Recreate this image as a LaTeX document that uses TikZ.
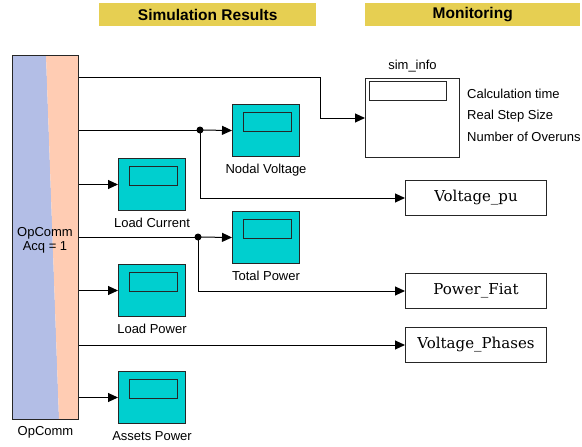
\documentclass[tikz,border=0pt]{standalone}
\usepackage{fontspec}
\setmainfont{Liberation Sans}
\newfontfamily\serifout{DejaVu Serif}
\usetikzlibrary{arrows.meta}
\definecolor{hdr}{HTML}{E6CF52}
\definecolor{scopecyan}{HTML}{00CFCF}
\definecolor{opblue}{HTML}{B3BEE6}
\definecolor{oppeach}{HTML}{FFCCB3}
\tikzset{
  hdrbox/.style={fill=hdr, minimum width=217pt, minimum height=23pt, anchor=north west, inner sep=0pt, font=\fontsize{15.5}{18}\selectfont\bfseries},
  scopebox/.style={draw=black!85, line width=1pt, fill=scopecyan, minimum width=67pt, minimum height=52pt, anchor=north west, inner sep=0pt},
  scopewin/.style={draw=black!85, line width=1pt, fill=scopecyan, minimum width=48pt, minimum height=19pt, inner sep=0pt},
  lbl/.style={font=\fontsize{13}{14}\selectfont, anchor=base, inner sep=0pt},
  outbox/.style={draw=black!85, line width=1pt, fill=white, minimum width=141pt, minimum height=35pt, anchor=north west, inner sep=0pt, font=\serifout\fontsize{15}{18}\selectfont},
  conn/.style={line width=1pt, draw=black},
  arr/.style={conn, -{Triangle[length=10pt,width=9pt]}},
  junc/.style={circle, fill=black, inner sep=0pt, minimum size=7pt}
}
\begin{document}
\begin{tikzpicture}[x=1pt,y=-1pt]
\useasboundingbox (0,0) rectangle (582,447);
% headers
\node[hdrbox] (h1) at (99,3) {Simulation Results};
\node[hdrbox, minimum width=215pt] (h2) at (365,3) {Monitoring};
% OpComm block
\fill[opblue] (12,55) -- (46,55) -- (59,419) -- (12,419) -- cycle;
\fill[oppeach] (46,55) -- (78,55) -- (78,419) -- (59,419) -- cycle;
\node[draw=black!85, line width=1pt, minimum width=66pt, minimum height=364pt, anchor=north west, inner sep=0pt] (op) at (12,55) {};
\node[font=\fontsize{13}{14}\selectfont, align=center, inner sep=0pt] (optxt) at (45,240) {OpComm\\Acq = 1};
\node[lbl] (oplbl) at ([yshift=-15pt]op.south) {OpComm};
% scopes
\node[scopebox] (nv) at (232,104) {};
\node[scopebox] (lc) at (118,158) {};
\node[scopebox] (tp) at (232,211) {};
\node[scopebox] (lp) at (118,264) {};
\node[scopebox] (ap) at (118,371) {};
\foreach \s in {nv,lc,tp,lp,ap}{
  \node[scopewin] (\s w) at ([xshift=1.5pt,yshift=8.5pt]\s.center) {};
}
\node[lbl] at ([yshift=-16pt]nv.south) {Nodal Voltage};
\node[lbl] at ([yshift=-16pt]lc.south) {Load Current};
\node[lbl] at ([yshift=-16pt]tp.south) {Total Power};
\node[lbl] at ([yshift=-16pt]lp.south) {Load Power};
\node[lbl] at ([yshift=-16pt]ap.south) {Assets Power};
% sim_info
\node[draw=black!85, line width=1pt, fill=white, minimum width=94pt, minimum height=79pt, anchor=north west, inner sep=0pt] (sim) at (365,78) {};
\node[draw=black!85, line width=1pt, fill=white, minimum width=77pt, minimum height=19pt, anchor=north west, inner sep=0pt] (simw) at (369,81) {};
\node[lbl] (simlbl) at ([yshift=8pt]sim.north) {sim\_info};
\node[lbl, anchor=base west] (t1) at (467,98) {Calculation time};
\node[lbl, anchor=base west] (t2) at (467,119.5) {Real Step Size};
\node[lbl, anchor=base west] (t3) at (467,141) {Number of Overuns};
% output blocks
\node[outbox] (vpu) at (405,180) {Voltage\_pu};
\node[outbox] (pf) at (405,273) {Power\_Fiat};
\node[outbox] (vph) at (405,327) {Voltage\_Phases};
% connectors
\coordinate (c1) at (320,77);
\draw[arr] (op.east |- c1) -- (c1) |- (sim.west);
\coordinate (j1) at (200,130);
\draw[conn] (op.east |- j1) -- (j1);
\draw[arr] (j1) -- (nv.west);
\draw[arr] (j1) |- (vpu.west);
\node[junc] at (j1) {};
\draw[arr] (op.east |- lc.west) -- (lc.west);
\coordinate (j2) at (198,237);
\draw[conn] (op.east |- j2) -- (j2);
\draw[arr] (j2) -- (tp.west);
\draw[arr] (j2) |- (pf.west);
\node[junc] at (j2) {};
\draw[arr] (op.east |- lp.west) -- (lp.west);
\draw[arr] (op.east |- vph.west) -- (vph.west);
\draw[arr] (op.east |- ap.west) -- (ap.west);
\end{tikzpicture}
\end{document}
